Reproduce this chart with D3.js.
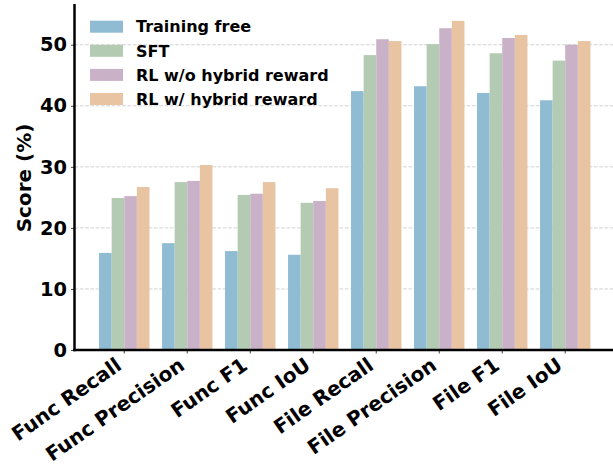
<!DOCTYPE html>
<html><head><meta charset="utf-8">
<script src="https://cdn.jsdelivr.net/npm/d3@7/dist/d3.min.js"></script>
<style>body{margin:0;background:#fff}svg{display:block;font-family:"DejaVu Sans",sans-serif;font-weight:bold}</style>
</head><body><svg id="c" width="613" height="467"></svg>
<script>
const categories = ["Func Recall","Func Precision","Func F1","Func IoU","File Recall","File Precision","File F1","File IoU"];
const seriesNames = ["Training free","SFT","RL w/o hybrid reward","RL w/ hybrid reward"];
const trainingFree = [15.9,17.5,16.2,15.6,42.4,43.2,42.1,40.9];
const sft          = [24.9,27.5,25.4,24.1,48.3,50.1,48.6,47.4];
const rlNoHybrid   = [25.2,27.7,25.6,24.4,50.9,52.7,51.1,50.0];
const rlHybrid     = [26.7,30.3,27.5,26.5,50.6,53.9,51.6,50.6];
const yTicks = [0,10,20,30,40,50];
const colors = ["#8fbbd3","#b3cbb3","#c9b1c7","#e8c4a2"];

const seriesValues = [trainingFree, sft, rlNoHybrid, rlHybrid];
const svg = d3.select("#c");
const L = 74.5, R = 615, T = 4, B = 350;

const x = d3.scaleBand().domain(categories).range([L, R]).paddingInner(0.2).paddingOuter(0.39);
const xs = d3.scaleBand().domain(seriesNames).range([0, x.bandwidth()]);
const y = d3.scaleLinear().domain([0, 56.67]).range([B, T]);

// grid
svg.append("g").selectAll("line").data(yTicks.filter(d => d > 0)).join("line")
  .attr("x1", L).attr("x2", R).attr("y1", d => y(d)).attr("y2", d => y(d))
  .attr("stroke", "#d2d2d2").attr("stroke-width", 1).attr("stroke-dasharray", "3.7,1.6");

// bars
seriesNames.forEach((s, si) => {
  svg.append("g").selectAll("rect").data(categories).join("rect")
    .attr("x", c => x(c) + xs(s))
    .attr("width", xs.bandwidth())
    .attr("y", (c, i) => y(seriesValues[si][i]))
    .attr("height", (c, i) => B - y(seriesValues[si][i]))
    .attr("fill", colors[si]);
});

// axes
const yAxis = svg.append("g").attr("transform", `translate(${L},0)`)
  .call(d3.axisLeft(y).tickValues(yTicks).tickSize(3.5).tickPadding(4));
yAxis.select(".domain").remove();
yAxis.selectAll(".tick line").attr("stroke", "#444").attr("stroke-width", 1);
yAxis.selectAll(".tick text").attr("font-size", "19.4px").attr("font-weight", "bold")
  .attr("font-family", "DejaVu Sans").attr("fill", "#000");

const xAxis = svg.append("g").attr("transform", `translate(0,${B})`)
  .call(d3.axisBottom(x).tickSize(3.5).tickPadding(4));
xAxis.select(".domain").remove();
xAxis.selectAll(".tick line").attr("stroke", "#444").attr("stroke-width", 1);
xAxis.selectAll(".tick text")
  .attr("font-size", "20px").attr("font-weight", "bold").attr("font-family", "DejaVu Sans").attr("fill", "#000")
  .attr("text-anchor", "end").attr("x", 0).attr("y", 0).attr("dy", "0.75em")
  .attr("transform", "translate(-10,6) rotate(-35)");

// spines
svg.append("line").attr("x1", L).attr("x2", L).attr("y1", T).attr("y2", B + 1.25)
  .attr("stroke", "#000").attr("stroke-width", 2.5);
svg.append("line").attr("x1", L - 1.25).attr("x2", R).attr("y1", B).attr("y2", B)
  .attr("stroke", "#000").attr("stroke-width", 2.5);

// y label
svg.append("text").attr("transform", `translate(31,178) rotate(-90)`)
  .attr("text-anchor", "middle").attr("font-size", "20px").attr("font-weight", "bold").text("Score (%)");

// legend
const lg = svg.append("g");
seriesNames.forEach((s, i) => {
  const cy = 26.7 + i * 24.1;
  lg.append("rect").attr("x", 90).attr("y", cy - 6).attr("width", 33).attr("height", 12).attr("fill", colors[i]);
  lg.append("text").attr("x", 136).attr("y", cy).attr("dy", "0.36em")
    .attr("font-size", "16px").attr("font-weight", "bold").text(s);
});
</script></body></html>
